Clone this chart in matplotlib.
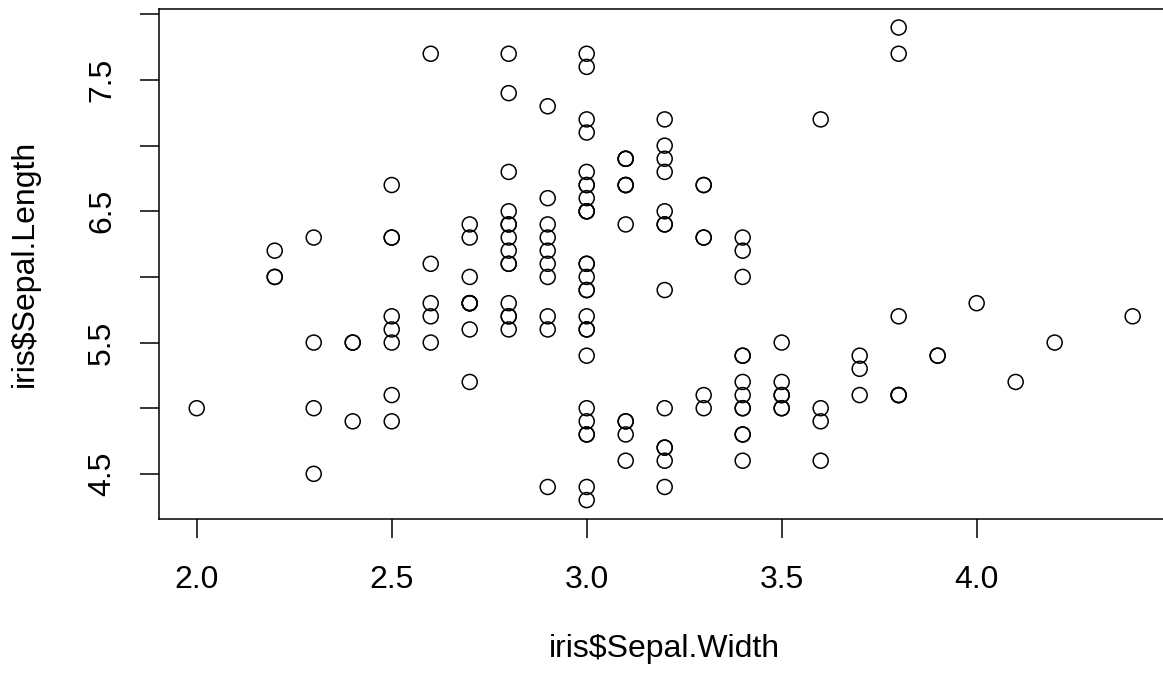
import matplotlib
matplotlib.use("Agg")
import matplotlib.pyplot as plt
import numpy as np

sepal_length = [
    5.1, 4.9, 4.7, 4.6, 5.0, 5.4, 4.6, 5.0, 4.4, 4.9, 5.4, 4.8, 4.8, 4.3, 5.8, 5.7, 5.4, 5.1, 5.7, 5.1,
    5.4, 5.1, 4.6, 5.1, 4.8, 5.0, 5.0, 5.2, 5.2, 4.7, 4.8, 5.4, 5.2, 5.5, 4.9, 5.0, 5.5, 4.9, 4.4, 5.1,
    5.0, 4.5, 4.4, 5.0, 5.1, 4.8, 5.1, 4.6, 5.3, 5.0,
    7.0, 6.4, 6.9, 5.5, 6.5, 5.7, 6.3, 4.9, 6.6, 5.2, 5.0, 5.9, 6.0, 6.1, 5.6, 6.7, 5.6, 5.8, 6.2, 5.6,
    5.9, 6.1, 6.3, 6.1, 6.4, 6.6, 6.8, 6.7, 6.0, 5.7, 5.5, 5.5, 5.8, 6.0, 5.4, 6.0, 6.7, 6.3, 5.6, 5.5,
    5.5, 6.1, 5.8, 5.0, 5.6, 5.7, 5.7, 6.2, 5.1, 5.7,
    6.3, 5.8, 7.1, 6.3, 6.5, 7.6, 4.9, 7.3, 6.7, 7.2, 6.5, 6.4, 6.8, 5.7, 5.8, 6.4, 6.5, 7.7, 7.7, 6.0,
    6.9, 5.6, 7.7, 6.3, 6.7, 7.2, 6.2, 6.1, 6.4, 7.2, 7.4, 7.9, 6.4, 6.3, 6.1, 7.7, 6.3, 6.4, 6.0, 6.9,
    6.7, 6.9, 5.8, 6.8, 6.7, 6.7, 6.3, 6.5, 6.2, 5.9,
]
sepal_width = [
    3.5, 3.0, 3.2, 3.1, 3.6, 3.9, 3.4, 3.4, 2.9, 3.1, 3.7, 3.4, 3.0, 3.0, 4.0, 4.4, 3.9, 3.5, 3.8, 3.8,
    3.4, 3.7, 3.6, 3.3, 3.4, 3.0, 3.4, 3.5, 3.4, 3.2, 3.1, 3.4, 4.1, 4.2, 3.1, 3.2, 3.5, 3.6, 3.0, 3.4,
    3.5, 2.3, 3.2, 3.5, 3.8, 3.0, 3.8, 3.2, 3.7, 3.3,
    3.2, 3.2, 3.1, 2.3, 2.8, 2.8, 3.3, 2.4, 2.9, 2.7, 2.0, 3.0, 2.2, 2.9, 2.9, 3.1, 3.0, 2.7, 2.2, 2.5,
    3.2, 2.8, 2.5, 2.8, 2.9, 3.0, 2.8, 3.0, 2.9, 2.6, 2.4, 2.4, 2.7, 2.7, 3.0, 3.4, 3.1, 2.3, 3.0, 2.5,
    2.6, 3.0, 2.6, 2.3, 2.7, 3.0, 2.9, 2.9, 2.5, 2.8,
    3.3, 2.7, 3.0, 2.9, 3.0, 3.0, 2.5, 2.9, 2.5, 3.6, 3.2, 2.7, 3.0, 2.5, 2.8, 3.2, 3.0, 3.8, 2.6, 2.2,
    3.2, 2.8, 2.8, 2.7, 3.3, 3.2, 2.8, 3.0, 2.8, 3.0, 2.8, 3.8, 2.8, 2.8, 2.6, 3.0, 3.4, 3.1, 3.0, 3.1,
    3.1, 3.1, 2.7, 3.2, 3.3, 3.0, 2.5, 3.0, 3.4, 3.0,
]
x_ticks = [2.0, 2.5, 3.0, 3.5, 4.0]
x_tick_labels = ["2.0", "2.5", "3.0", "3.5", "4.0"]
y_ticks = [4.5, 5.0, 5.5, 6.0, 6.5, 7.0, 7.5, 8.0]
y_tick_labels = ["4.5", "", "5.5", "", "6.5", "", "7.5", ""]
x_label = "iris$Sepal.Width"
y_label = "iris$Sepal.Length"

plt.rcParams['font.family'] = ['Liberation Sans', 'DejaVu Sans']

W, H = 1163, 675
fig = plt.figure(figsize=(W / 100, H / 100), dpi=100)
left_px, right_px, top_px, bottom_px = 159.3, 1170.1, 8.6, 519.0
ax_w, ax_h = right_px - left_px, bottom_px - top_px
ax = fig.add_axes([left_px / W, 1 - bottom_px / H, ax_w / W, ax_h / H])

ax.scatter(sepal_width, sepal_length, s=10.8 ** 2, facecolors='none', edgecolors='black', linewidths=1.1)

xmin, xmax = min(sepal_width), max(sepal_width)
ymin, ymax = min(sepal_length), max(sepal_length)
ax.set_xlim(xmin - 0.04 * (xmax - xmin), xmax + 0.04 * (xmax - xmin))
ax.set_ylim(ymin - 0.04 * (ymax - ymin), ymax + 0.04 * (ymax - ymin))

px = 72 / 100  # points per pixel
tick_len_px = 19
ax.set_xticks(x_ticks)
ax.set_xticklabels(x_tick_labels, va='baseline')
ax.set_yticks(y_ticks)
ax.set_yticklabels(y_tick_labels, rotation=90, rotation_mode='anchor', ha='center', va='baseline')
ax.tick_params(axis='both', direction='out', length=tick_len_px * px, width=1.1, labelsize=23, color='black')
ax.tick_params(axis='x', pad=(588 - bottom_px - tick_len_px) * px)
ax.tick_params(axis='y', pad=(left_px - tick_len_px - 110) * px)
for sp in ax.spines.values():
    sp.set_linewidth(1.1)
    sp.set_color('black')

ax.set_xlabel(x_label, fontsize=23, va='baseline')
ax.xaxis.set_label_coords(0.5, -(657 - bottom_px) / ax_h)
ax.set_ylabel(y_label, fontsize=23, rotation=90, rotation_mode='anchor', ha='center', va='baseline')
ax.yaxis.set_label_coords(-(left_px - 33) / ax_w, 0.5)

fig.savefig("out.png", dpi=100)
